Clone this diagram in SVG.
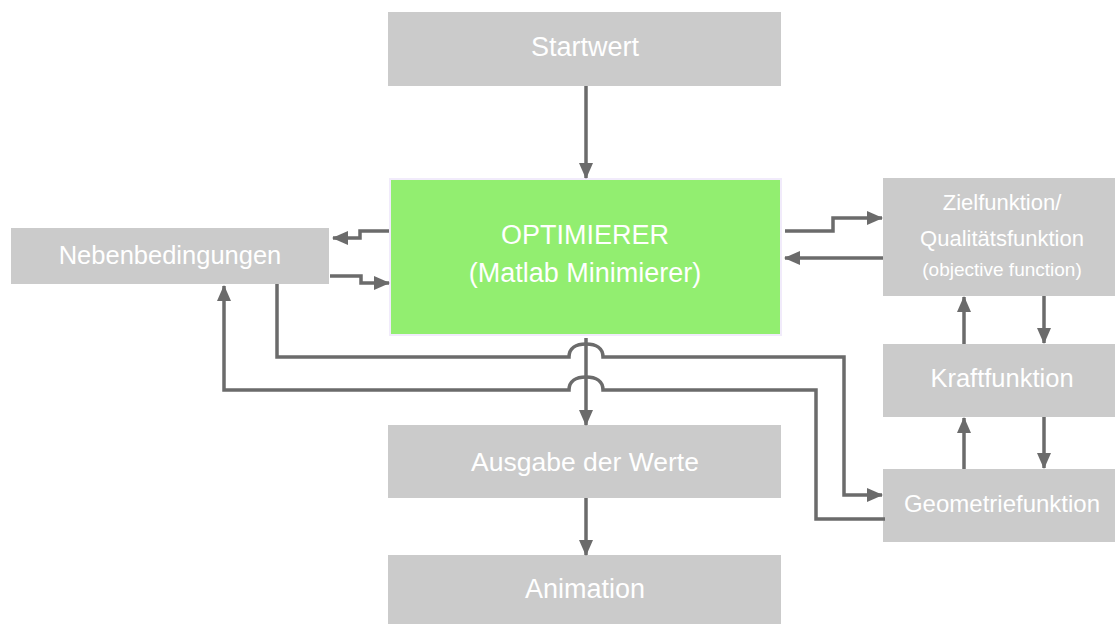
<svg xmlns="http://www.w3.org/2000/svg" width="1115" height="624" viewBox="0 0 1115 624">
  <defs>
    <marker id="ah" markerUnits="userSpaceOnUse" markerWidth="16" markerHeight="14" viewBox="0 0 16 14" refX="15" refY="7" orient="auto">
      <path d="M0,0 L16,7 L0,14 Z" fill="#6b6b6b"/>
    </marker>
    <style>
      .box { fill: #cbcbcb; }
      .opt { fill: #92ee70; stroke: #f1ebfb; stroke-width: 2; }
      .lbl { font-family: "Liberation Sans", Arial, sans-serif; fill: #ffffff; text-anchor: middle; dominant-baseline: central; font-size: 25.5px; }
      .big { font-size: 27px; }
      .sm { font-size: 22px; }
      .xs { font-size: 19px; }
      .wire { fill: none; stroke: #6b6b6b; stroke-width: 3.5; stroke-linejoin: miter; }
      .arr { marker-end: url(#ah); }
    </style>
  </defs>

  <g id="startwert">
    <rect class="box" x="388" y="12" width="393" height="74"/>
    <text class="lbl" x="585" y="47" style="font-size:27px">Startwert</text>
  </g>

  <g id="optimierer">
    <rect class="opt" x="390" y="179" width="391" height="156"/>
    <text class="lbl big" x="585" y="235">OPTIMIERER</text>
    <text class="lbl big" x="585" y="273">(Matlab Minimierer)</text>
  </g>

  <g id="nebenbedingungen">
    <rect class="box" x="11" y="228" width="318" height="56"/>
    <text class="lbl" x="170" y="255">Nebenbedingungen</text>
  </g>

  <g id="zielfunktion">
    <rect class="box" x="883" y="178" width="232" height="118"/>
    <text class="lbl sm" x="1002" y="202">Zielfunktion/</text>
    <text class="lbl sm" x="1002" y="238">Qualitätsfunktion</text>
    <text class="lbl xs" x="1002" y="269">(objective function)</text>
  </g>

  <g id="kraftfunktion">
    <rect class="box" x="883" y="344" width="232" height="73"/>
    <text class="lbl" x="1002" y="378">Kraftfunktion</text>
  </g>

  <g id="geometriefunktion">
    <rect class="box" x="883" y="469" width="232" height="73"/>
    <text class="lbl" x="1002" y="503" style="font-size:24px">Geometriefunktion</text>
  </g>

  <g id="ausgabe">
    <rect class="box" x="388" y="425" width="393" height="73"/>
    <text class="lbl" x="585" y="462" style="font-size:26.5px">Ausgabe der Werte</text>
  </g>

  <g id="animation">
    <rect class="box" x="388" y="555" width="393" height="69"/>
    <text class="lbl" x="585" y="589" style="font-size:27px">Animation</text>
  </g>

  <g id="connectors">
    <!-- main chain -->
    <path class="wire arr" d="M586,86 V178"/>
    <path class="wire arr" d="M586,338 V425"/>
    <path class="wire arr" d="M586,498 V555"/>

    <!-- optimizer <-> constraints -->
    <path class="wire arr" d="M389,231 H360 V238 H333"/>
    <path class="wire arr" d="M330,276 H361 V283 H389"/>

    <!-- optimizer <-> objective -->
    <path class="wire arr" d="M785,231 H833 V218 H882"/>
    <path class="wire arr" d="M883,258 H785"/>

    <!-- objective / force / geometry chain -->
    <path class="wire arr" d="M964,344 V297"/>
    <path class="wire arr" d="M1044,296 V343"/>
    <path class="wire arr" d="M964,469 V418"/>
    <path class="wire arr" d="M1044,417 V468"/>

    <!-- constraints -> geometry, hopping over the output line -->
    <path class="wire arr" d="M277,284 V357 H569 C569,348 576,344 586,344 C596,344 603,348 603,357 H844 V495 H882"/>
    <!-- geometry -> constraints, hopping over the output line -->
    <path class="wire arr" d="M885,519 H816 V390 H603 C603,381 596,377 586,377 C576,377 569,381 569,390 H224 V286"/>
  </g>
</svg>
